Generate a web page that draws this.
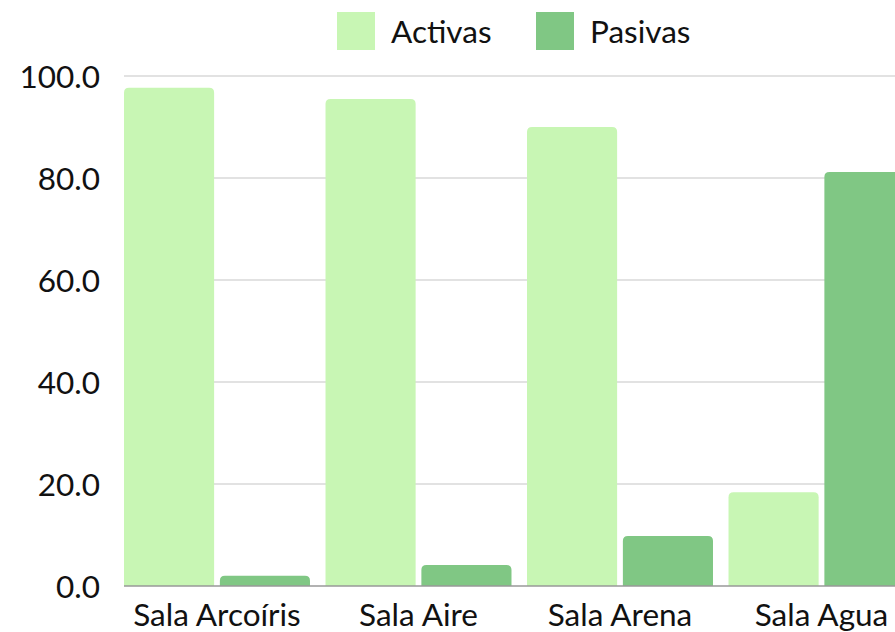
<!DOCTYPE html>
<html>
<head>
<meta charset="utf-8">
<script src="https://cdn.jsdelivr.net/npm/d3@7"></script>
<style>
  body { margin: 0; background: #fff; }
  svg { font-family: Lato, "Open Sans", sans-serif; display: block; }
</style>
</head>
<body>
<svg id="chart"></svg>
<script>
const categories = ["Sala Arcoíris", "Sala Aire", "Sala Arena", "Sala Agua"];
const seriesNames = ["Activas", "Pasivas"];
const activas = [97.7, 95.5, 90.0, 18.4];
const pasivas = [2.0, 4.1, 9.8, 81.2];
const yTicks = [0, 20, 40, 60, 80, 100];
const colors = ["#c8f6b4", "#80c784"];

const size = { width: 895, height: 632 };
const margin = { left: 124, right: -20, top: 76, bottom: 46 };

const svg = d3
  .select("#chart")
  .attr("width", size.width)
  .attr("height", size.height);

const data = categories.map((c, i) => ({ cat: c, values: [activas[i], pasivas[i]] }));

const x0 = d3
  .scaleBand()
  .domain(categories)
  .range([margin.left, margin.left + 790.5])
  .paddingInner(0.077)
  .paddingOuter(0);

const x1 = d3
  .scaleBand()
  .domain(seriesNames)
  .range([0, x0.bandwidth()])
  .paddingInner(0.06);

const y = d3
  .scaleLinear()
  .domain([0, 100])
  .range([size.height - margin.bottom, margin.top]);

// gridlines
svg
  .append("g")
  .selectAll("line")
  .data(yTicks.filter((d) => d > 0))
  .enter()
  .append("line")
  .attr("x1", margin.left)
  .attr("x2", size.width)
  .attr("y1", (d) => y(d))
  .attr("y2", (d) => y(d))
  .attr("stroke", "#c6c6c6")
  .attr("stroke-width", 1.2);

// y labels
svg
  .append("g")
  .selectAll("text")
  .data(yTicks)
  .enter()
  .append("text")
  .attr("x", 100)
  .attr("y", (d) => y(d))
  .attr("text-anchor", "end")
  .attr("dominant-baseline", "central")
  .style("font-size", "31.5px")
  .attr("fill", "#111")
  .text((d) => d.toFixed(1));

// bars with rounded top corners
const r = 5;
function barPath(x, w, top, bottom) {
  const rr = Math.min(r, (bottom - top), w / 2);
  return `M${x},${bottom}V${top + rr}Q${x},${top} ${x + rr},${top}H${x + w - rr}Q${x + w},${top} ${x + w},${top + rr}V${bottom}Z`;
}

const groups = svg
  .append("g")
  .selectAll("g")
  .data(data)
  .enter()
  .append("g")
  .attr("transform", (d) => `translate(${x0(d.cat)},0)`);

groups
  .selectAll("path")
  .data((d) => d.values.map((v, i) => ({ key: seriesNames[i], v, i })))
  .enter()
  .append("path")
  .attr("fill", (d) => colors[d.i])
  .attr("d", (d) => barPath(x1(d.key), x1.bandwidth(), y(d.v), y(0)));

// baseline
svg
  .append("line")
  .attr("x1", margin.left)
  .attr("x2", size.width)
  .attr("y1", y(0))
  .attr("y2", y(0))
  .attr("stroke", "#999")
  .attr("stroke-width", 1.5);

// x labels
svg
  .append("g")
  .selectAll("text")
  .data(categories)
  .enter()
  .append("text")
  .attr("x", (d) => x0(d) + x0.bandwidth() / 2)
  .attr("y", 626)
  .attr("text-anchor", "middle")
  .style("font-size", "31.5px")
  .attr("fill", "#111")
  .text((d) => d);

// legend
const legendX = [337, 536];
const legend = svg
  .append("g")
  .selectAll("g")
  .data(seriesNames)
  .enter()
  .append("g")
  .attr("transform", (d, i) => `translate(${legendX[i]},12)`);

legend
  .append("rect")
  .attr("width", 38)
  .attr("height", 38)
  .attr("fill", (d, i) => colors[i]);

legend
  .append("text")
  .attr("x", 54)
  .attr("y", 19)
  .attr("dominant-baseline", "central")
  .style("font-size", "31.5px")
  .attr("fill", "#111")
  .text((d) => d);
</script>
</body>
</html>
